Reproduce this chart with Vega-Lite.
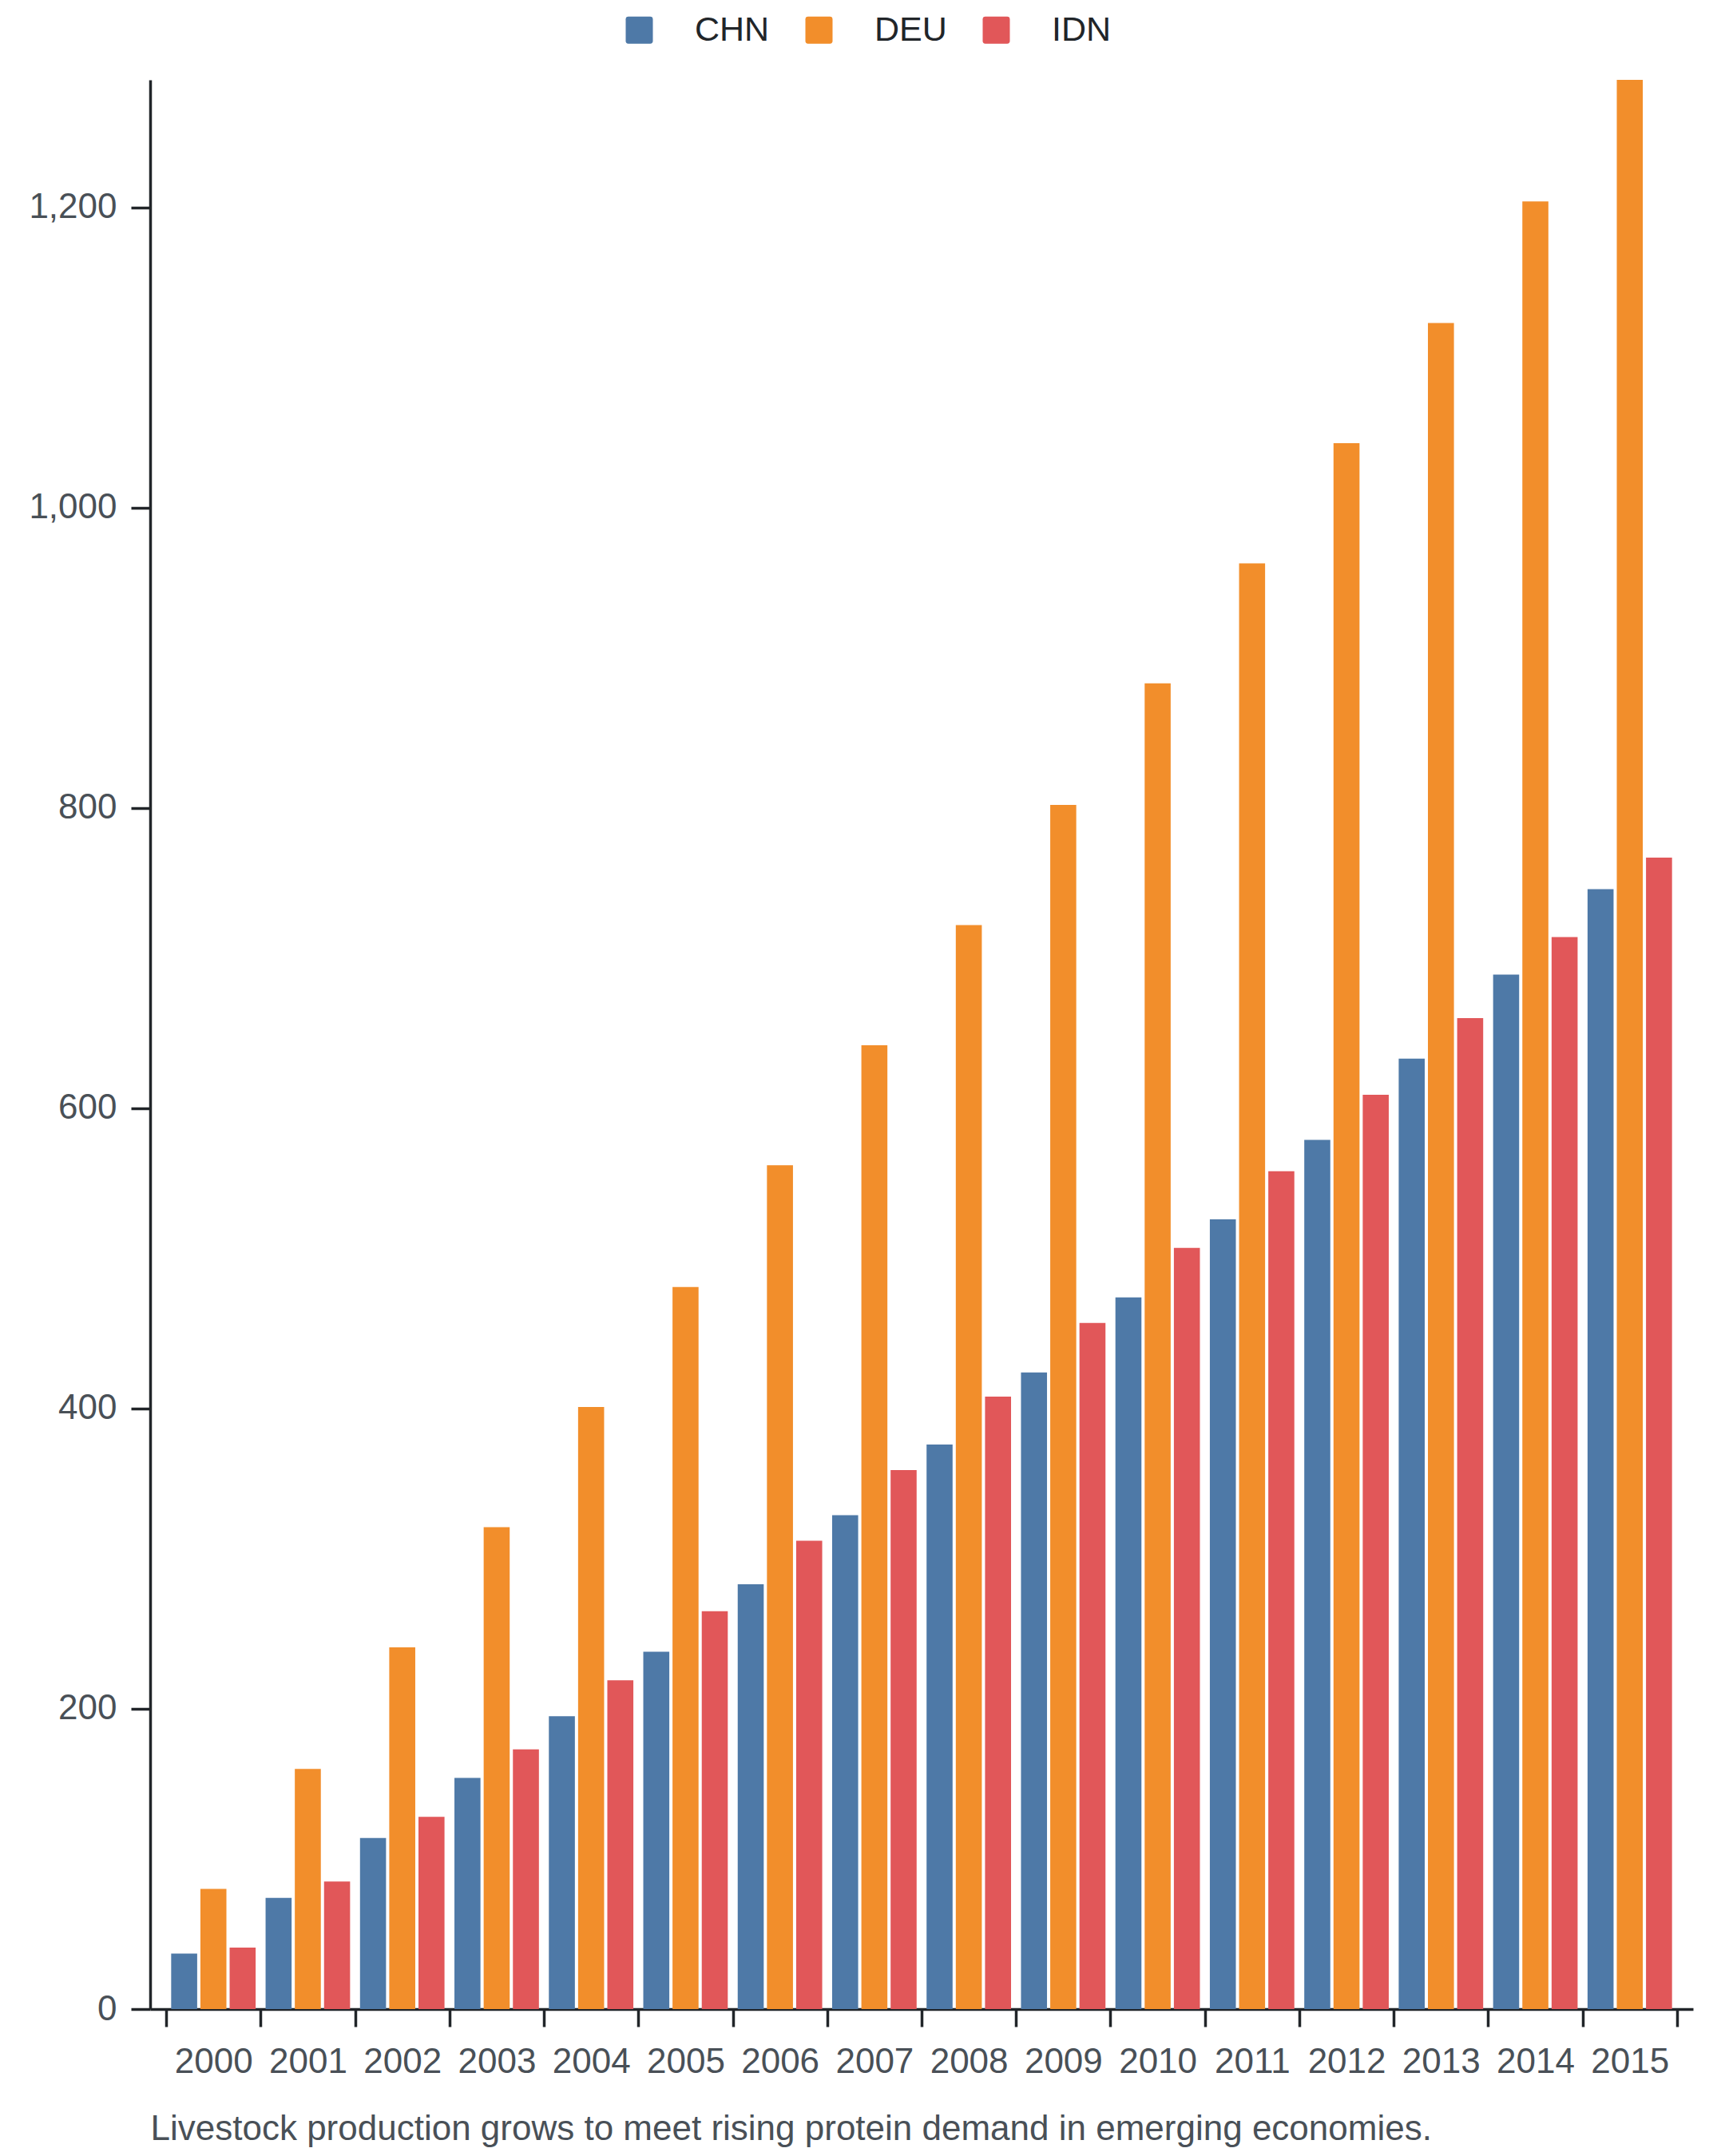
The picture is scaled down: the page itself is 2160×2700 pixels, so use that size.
{
  "$schema": "https://vega.github.io/schema/vega-lite/v6.json",
  "width": 1932,
  "height": 2416,
  "autosize": {"type": "none"},
  "padding": {"left": 188, "top": 100, "right": 40, "bottom": 184},
  "background": "white",
  "config": {
    "view": {"stroke": null},
    "font": "Liberation Sans",
    "axis": {
      "labelFont": "Liberation Sans",
      "labelFontSize": 44,
      "labelColor": "#495057",
      "domainColor": "#212529",
      "domainWidth": 3.5,
      "tickColor": "#212529",
      "tickWidth": 3.5,
      "grid": false
    },
    "legend": {
      "labelFont": "Liberation Sans",
      "labelFontSize": 43,
      "labelColor": "#212529"
    }
  },
  "data": {
    "values": [
      {"year": "2000", "country": "CHN", "value": 37},
      {"year": "2001", "country": "CHN", "value": 74},
      {"year": "2002", "country": "CHN", "value": 114},
      {"year": "2003", "country": "CHN", "value": 154},
      {"year": "2004", "country": "CHN", "value": 195},
      {"year": "2005", "country": "CHN", "value": 238},
      {"year": "2006", "country": "CHN", "value": 283},
      {"year": "2007", "country": "CHN", "value": 329},
      {"year": "2008", "country": "CHN", "value": 376},
      {"year": "2009", "country": "CHN", "value": 424},
      {"year": "2010", "country": "CHN", "value": 474},
      {"year": "2011", "country": "CHN", "value": 526},
      {"year": "2012", "country": "CHN", "value": 579},
      {"year": "2013", "country": "CHN", "value": 633},
      {"year": "2014", "country": "CHN", "value": 689},
      {"year": "2015", "country": "CHN", "value": 746},
      {"year": "2000", "country": "DEU", "value": 80},
      {"year": "2001", "country": "DEU", "value": 160},
      {"year": "2002", "country": "DEU", "value": 241},
      {"year": "2003", "country": "DEU", "value": 321},
      {"year": "2004", "country": "DEU", "value": 401},
      {"year": "2005", "country": "DEU", "value": 481},
      {"year": "2006", "country": "DEU", "value": 562},
      {"year": "2007", "country": "DEU", "value": 642},
      {"year": "2008", "country": "DEU", "value": 722},
      {"year": "2009", "country": "DEU", "value": 802},
      {"year": "2010", "country": "DEU", "value": 883},
      {"year": "2011", "country": "DEU", "value": 963},
      {"year": "2012", "country": "DEU", "value": 1043},
      {"year": "2013", "country": "DEU", "value": 1123},
      {"year": "2014", "country": "DEU", "value": 1204},
      {"year": "2015", "country": "DEU", "value": 1285},
      {"year": "2000", "country": "IDN", "value": 41},
      {"year": "2001", "country": "IDN", "value": 85},
      {"year": "2002", "country": "IDN", "value": 128},
      {"year": "2003", "country": "IDN", "value": 173},
      {"year": "2004", "country": "IDN", "value": 219},
      {"year": "2005", "country": "IDN", "value": 265},
      {"year": "2006", "country": "IDN", "value": 312},
      {"year": "2007", "country": "IDN", "value": 359},
      {"year": "2008", "country": "IDN", "value": 408},
      {"year": "2009", "country": "IDN", "value": 457},
      {"year": "2010", "country": "IDN", "value": 507},
      {"year": "2011", "country": "IDN", "value": 558},
      {"year": "2012", "country": "IDN", "value": 609},
      {"year": "2013", "country": "IDN", "value": 660},
      {"year": "2014", "country": "IDN", "value": 714},
      {"year": "2015", "country": "IDN", "value": 767}
    ]
  },
  "mark": {"type": "bar"},
  "encoding": {
    "x": {
      "field": "year",
      "type": "ordinal",
      "scale": {"paddingInner": 0, "paddingOuter": 0.17},
      "axis": {
        "labelAngle": 0,
        "tickBand": "extent",
        "tickSize": 22,
        "labelPadding": 22,
        "title": "Livestock production grows to meet rising protein demand in emerging economies.",
        "titleFont": "Liberation Sans",
        "titleFontSize": 44,
        "titleFontWeight": "normal",
        "titleColor": "#495057",
        "titleAnchor": "start",
        "titleAlign": "left",
        "titlePadding": 40
      }
    },
    "xOffset": {
      "field": "country",
      "type": "nominal",
      "scale": {"paddingInner": 0.11, "paddingOuter": 0.17}
    },
    "y": {
      "field": "value",
      "type": "quantitative",
      "scale": {"nice": false, "zero": true},
      "axis": {
        "title": null,
        "values": [0, 200, 400, 600, 800, 1000, 1200],
        "format": ",.0f",
        "tickSize": 24,
        "labelPadding": 18
      }
    },
    "color": {
      "field": "country",
      "type": "nominal",
      "scale": {
        "domain": ["CHN", "DEU", "IDN"],
        "range": ["#4e79a7", "#f28e2b", "#e15759"]
      },
      "legend": {
        "title": null,
        "orient": "none",
        "direction": "horizontal",
        "legendX": 591,
        "legendY": -84,
        "symbolType": "M -0.8,-1 L 0.8,-1 Q 1,-1 1,-0.8 L 1,0.8 Q 1,1 0.8,1 L -0.8,1 Q -1,1 -1,0.8 L -1,-0.8 Q -1,-1 -0.8,-1 Z",
        "symbolSize": 1156,
        "symbolStrokeWidth": 0,
        "symbolOpacity": 1,
        "labelOffset": 48,
        "columnPadding": 40
      }
    }
  }
}
